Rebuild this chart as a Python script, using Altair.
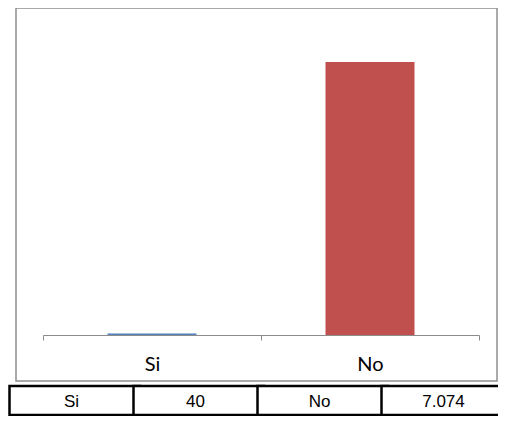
import altair as alt
import pandas as pd

categories = ["Si", "No"]
values = [40, 7074]
colors = ["#4F81BD", "#C0504D"]


def fmt(v):
    return f"{v:,}".replace(",", ".")


bars_df = pd.DataFrame({"cat": categories, "val": values, "color": colors})

cells = []
for c, v in zip(categories, values):
    cells.append(c)
    cells.append(fmt(v))
table_df = pd.DataFrame({"col": list(range(len(cells))), "text": cells})

W, H = 481, 373

bars = alt.Chart(bars_df).mark_bar(size=89).encode(
    x=alt.X("cat:N", sort=categories, title=None,
            scale=alt.Scale(range=[27, 463], paddingInner=0, paddingOuter=0),
            axis=alt.Axis(orient="bottom", offset=-46, labelAngle=0,
                          domainColor="#8c8c8c", domainWidth=1,
                          tickColor="#8c8c8c", tickSize=5, tickWidth=1, tickBand="extent",
                          labelFont="Lato", labelFontSize=20, labelFontWeight="normal",
                          labelColor="#000000", labelPadding=14, grid=False)),
    y=alt.Y("val:Q", scale=alt.Scale(domain=[-1192, 8473], nice=False, zero=False), axis=None),
    color=alt.Color("color:N", scale=None),
)

tbase = alt.Chart(table_df).transform_calculate(
    c_end="datum.col + 1", c_mid="datum.col + 0.5", r0="0", r1="1", rm="0.5"
)
xs = alt.Scale(domain=[0, 4], range=[0, 496], nice=False, zero=False)
ys = alt.Scale(domain=[0, 1], range=[H + 5, H + 34], nice=False, zero=False)

rects = tbase.mark_rect(fill="white", stroke="black", strokeWidth=2.5, xOffset=-6.5).encode(
    x=alt.X("col:Q", scale=xs, axis=None),
    x2="c_end:Q",
    y=alt.Y("r0:Q", scale=ys, axis=None),
    y2="r1:Q",
)
texts = tbase.mark_text(font="Liberation Sans", fontSize=17, color="black",
                        baseline="middle", align="center", xOffset=-6.5, dy=1).encode(
    x=alt.X("c_mid:Q", scale=xs, axis=None),
    y=alt.Y("rm:Q", scale=ys, axis=None),
    text="text:N",
)
table = alt.layer(rects, texts)

chart = alt.layer(bars, table).resolve_scale(
    x="independent", y="independent"
).properties(
    width=W, height=H,
    autosize=alt.AutoSizeParams(type="none"),
    padding={"left": 8, "top": 0, "right": 1, "bottom": 35},
).configure_view(stroke="#8f8f8f", strokeWidth=1.5)

chart.save("out.html", embed_options={"renderer": "svg", "actions": False})
